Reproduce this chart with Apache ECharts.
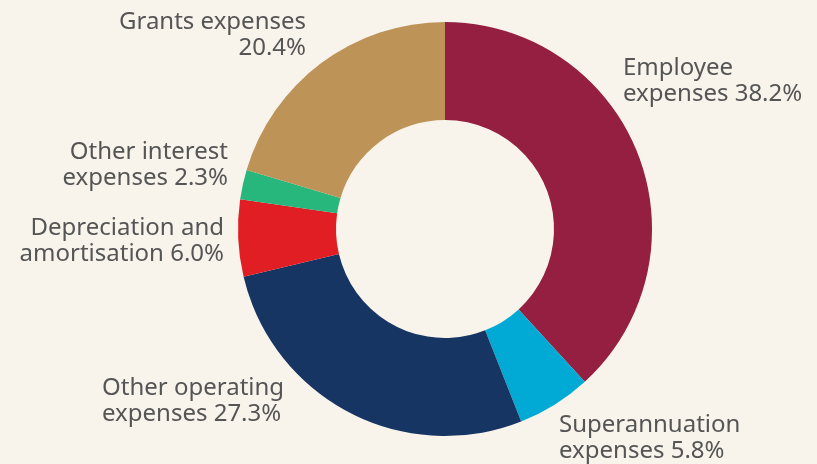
<!DOCTYPE html>
<html>
<head>
<meta charset="utf-8">
<script src="https://cdn.jsdelivr.net/npm/echarts@6/dist/echarts.min.js"></script>
<style>
  html, body { margin: 0; padding: 0; background: #f8f4ec; }
  #chart { width: 817px; height: 464px; }
</style>
</head>
<body>
<div id="chart"></div>
<script>
  // 数据
  var categories = ['Employee\nexpenses', 'Superannuation\nexpenses', 'Other operating\nexpenses',
    'Depreciation and\namortisation', 'Other interest\nexpenses', 'Grants expenses'];
  var shares = [38.2, 5.8, 27.3, 6.0, 2.3, 20.4];
  var colorList = ['#951f40', '#00aad4', '#173563', '#e01e24', '#27b67c', '#bd9358'];
  // label anchor: [x, y(top), align]
  var labelAnchors = [
    [623, 55, 'left'],
    [559, 412, 'left'],
    [102, 375, 'left'],
    [224, 215, 'right'],
    [228, 139, 'right'],
    [306, 9, 'right']
  ];

  var chart = echarts.init(document.getElementById('chart'));
  chart.setOption({
    backgroundColor: '#f8f4ec',
    animation: false,
    series: [{
      type: 'pie',
      center: [445, 229],
      radius: [109, 207],
      startAngle: 90,
      clockwise: true,
      avoidLabelOverlap: false,
      itemStyle: { borderWidth: 0 },
      label: {
        show: true,
        color: '#555555',
        fontFamily: 'Noto Sans',
        fontSize: 24,
        lineHeight: 26,
        formatter: function (p) {
          var sep = p.name.indexOf('\n') >= 0 ? ' ' : '\n';
          return p.name + sep + p.value.toFixed(1) + '%';
        }
      },
      labelLine: { show: false },
      labelLayout: function (params) {
        var a = labelAnchors[params.dataIndex];
        return { x: a[0], y: a[1], align: a[2], verticalAlign: 'top' };
      },
      data: categories.map(function (name, i) {
        return { name: name, value: shares[i], itemStyle: { color: colorList[i] } };
      })
    }]
  });
</script>
</body>
</html>
